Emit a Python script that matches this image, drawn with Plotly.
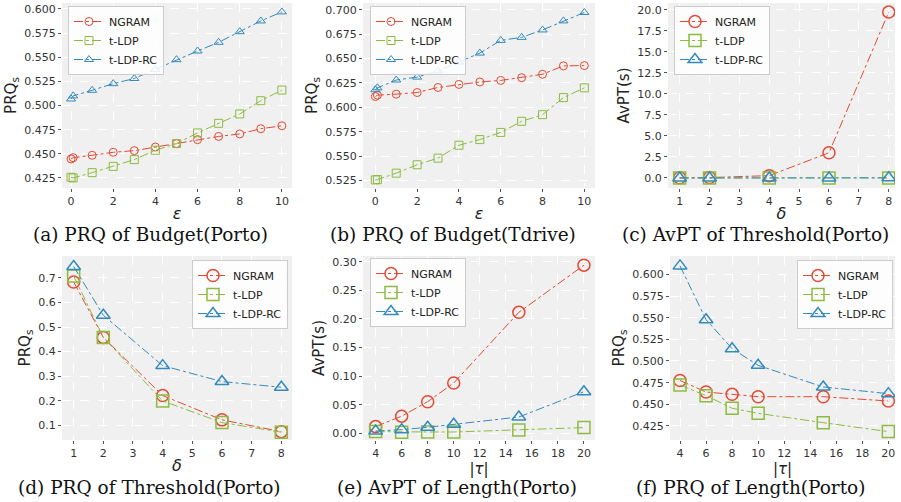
import plotly.graph_objects as go

W, H = 901, 502

series_names = ["NGRAM", "t-LDP", "t-LDP-RC"]
colors = ["#E24A33", "#8EBA42", "#348ABD"]
symbols = ["circle-open", "square-open", "triangle-up-open"]

# (a) PRQ of Budget (Porto)
eps = [0, 0.1, 1, 2, 3, 4, 5, 6, 7, 8, 9, 10]
a_ngram = [0.4447, 0.446, 0.4485, 0.4516, 0.4533, 0.457, 0.4606, 0.4647, 0.468, 0.4706, 0.476, 0.479]
a_tldp = [0.4257, 0.425, 0.4305, 0.437, 0.444, 0.4537, 0.4606, 0.4716, 0.4816, 0.4913, 0.505, 0.516]
a_tldprc = [0.5068, 0.510, 0.5158, 0.5227, 0.528, 0.5375, 0.5475, 0.5565, 0.5655, 0.5765, 0.5876, 0.597]

# (b) PRQ of Budget (Tdrive)
b_ngram = [0.6111, 0.6125, 0.6135, 0.6152, 0.6204, 0.6235, 0.626, 0.6276, 0.6304, 0.6339, 0.6425, 0.6428]
b_tldp = [0.5257, 0.526, 0.5326, 0.5412, 0.548, 0.5612, 0.567, 0.5743, 0.5857, 0.5925, 0.610, 0.620]
b_tldprc = [0.618, 0.620, 0.628, 0.631, 0.6373, 0.6463, 0.6556, 0.6686, 0.6717, 0.6793, 0.6886, 0.6972]

# (c) AvPT of Threshold (Porto)
delta = [1, 2, 4, 6, 8]
c_ngram = [0.02, 0.05, 0.28, 3.0, 19.72]
c_tldp = [0.01, 0.01, 0.01, 0.01, 0.01]
c_tldprc = [0.0, 0.0, 0.0, 0.0, 0.02]

# (d) PRQ of Threshold (Porto)
d_ngram = [0.684, 0.458, 0.221, 0.122, 0.074]
d_tldp = [0.708, 0.458, 0.199, 0.111, 0.072]
d_tldprc = [0.747, 0.548, 0.343, 0.278, 0.255]

# (e) AvPT of Length (Porto)
tau = [4, 6, 8, 10, 15, 20]
e_ngram = [0.0117, 0.030, 0.0553, 0.088, 0.2115, 0.294]
e_tldp = [0.003, 0.002, 0.0023, 0.0023, 0.006, 0.010]
e_tldprc = [0.004, 0.0064, 0.0105, 0.0157, 0.0285, 0.0728]

# (f) PRQ of Length (Porto)
f_ngram = [0.4775, 0.4642, 0.4615, 0.4588, 0.4588, 0.4538]
f_tldp = [0.4723, 0.460, 0.4454, 0.4396, 0.4288, 0.4185]
f_tldprc = [0.6098, 0.5477, 0.5142, 0.4950, 0.4700, 0.4623]

captions = ["(a) PRQ of Budget(Porto)", "(b) PRQ of Budget(Tdrive)", "(c) AvPT of Threshold(Porto)",
            "(d) PRQ of Threshold(Porto)", "(e) AvPT of Length(Porto)", "(f) PRQ of Length(Porto)"]

panels = [
    dict(x=eps, ys=[a_ngram, a_tldp, a_tldprc], px=(62, 292), py=(3, 188), xr=(-0.43, 10.48), yr=(0.4146, 0.6062),
         xt=[0, 2, 4, 6, 8, 10], yt=[0.425, 0.45, 0.475, 0.5, 0.525, 0.55, 0.575, 0.6], yf=".3f",
         xtitle="<i>ε</i>", xts=16, ytitle="PRQ<sub>s</sub>", msize=8, mw=1, leg=(68, 6, "left"), cap=(150, 234)),
    dict(x=eps, ys=[b_ngram, b_tldp, b_tldprc], px=(363, 595), py=(3, 188), xr=(-0.59, 10.51), yr=(0.5174, 0.7069),
         xt=[0, 2, 4, 6, 8, 10], yt=[0.525, 0.55, 0.575, 0.6, 0.625, 0.65, 0.675, 0.7], yf=".3f",
         xtitle="<i>ε</i>", xts=16, ytitle="PRQ<sub>s</sub>", msize=8, mw=1, leg=(370, 6, "left"), cap=(453, 234)),
    dict(x=delta, ys=[c_ngram, c_tldp, c_tldprc], px=(668, 895), py=(3, 188), xr=(0.61, 8.21), yr=(-1.19, 20.8),
         xt=[1, 2, 3, 4, 5, 6, 7, 8], yt=[0, 2.5, 5, 7.5, 10, 12.5, 15, 17.5, 20], yf=".1f",
         xtitle="<i>δ</i>", xts=16, ytitle="AvPT(s)", msize=12, mw=1.5, leg=(674, 6, "left"), cap=(755, 234)),
    dict(x=delta, ys=[d_ngram, d_tldp, d_tldprc], px=(62, 292), py=(256, 440), xr=(0.607, 8.36), yr=(0.040, 0.7896),
         xt=[1, 2, 3, 4, 5, 6, 7, 8], yt=[0.1, 0.2, 0.3, 0.4, 0.5, 0.6, 0.7], yf=".1f",
         xtitle="<i>δ</i>", xts=16, ytitle="PRQ<sub>s</sub>", msize=12, mw=1.5, leg=(288, 260, "right"), cap=(149, 487)),
    dict(x=tau, ys=[e_ngram, e_tldp, e_tldprc], px=(363, 595), py=(256, 440), xr=(3.03, 20.85), yr=(-0.0117, 0.31),
         xt=[4, 6, 8, 10, 12, 14, 16, 18, 20], yt=[0, 0.05, 0.1, 0.15, 0.2, 0.25, 0.3], yf=".2f",
         xtitle="|<i>τ</i>|", xts=15, ytitle="AvPT(s)", msize=12, mw=1.5, leg=(370, 258, "left"), cap=(457, 487)),
    dict(x=tau, ys=[f_ngram, f_tldp, f_tldprc], px=(670, 895), py=(256, 440), xr=(3.23, 20.51), yr=(0.4088, 0.6212),
         xt=[4, 6, 8, 10, 12, 14, 16, 18, 20], yt=[0.425, 0.45, 0.475, 0.5, 0.525, 0.55, 0.575, 0.6], yf=".3f",
         xtitle="|<i>τ</i>|", xts=15, ytitle="PRQ<sub>s</sub>", msize=12, mw=1.5, leg=(893, 260, "right"), cap=(750, 487)),
]

fig = go.Figure()
layout = dict(width=W, height=H, margin=dict(l=0, r=0, t=0, b=0), paper_bgcolor="white",
              plot_bgcolor="#F0F0F0", font=dict(family="DejaVu Sans", size=11, color="#333333"),
              annotations=[])

for i, p in enumerate(panels):
    k = "" if i == 0 else str(i + 1)
    lg = "legend" if i == 0 else "legend" + str(i + 1)
    for j in range(3):
        fig.add_trace(go.Scatter(
            x=p["x"], y=p["ys"][j], name=series_names[j], mode="lines+markers",
            line=dict(color=colors[j], width=1, dash="dashdot"),
            marker=dict(symbol=symbols[j], size=p["msize"], color=colors[j], line=dict(width=p["mw"], color=colors[j])),
            xaxis="x" + k, yaxis="y" + k, legend=lg, showlegend=True))
    x0, x1 = p["px"]
    y0, y1 = p["py"]
    layout["xaxis" + k] = dict(domain=[x0 / W, x1 / W], anchor="y" + k, range=list(p["xr"]),
                               tickvals=p["xt"], showgrid=True, gridcolor="white", griddash="dash",
                               gridwidth=1, zeroline=False, showline=False, ticks="outside", ticklen=3,
                               tickcolor="#555555", tickfont=dict(size=11, color="#333333"),
                               title=dict(text=p["xtitle"], font=dict(size=p["xts"], color="#222222"), standoff=0))
    layout["yaxis" + k] = dict(domain=[1 - y1 / H, 1 - y0 / H], anchor="x" + k, range=list(p["yr"]),
                               tickvals=p["yt"], tickformat=p["yf"], showgrid=True, gridcolor="white",
                               griddash="dash", gridwidth=1, zeroline=False, showline=False, ticks="outside",
                               ticklen=3, tickcolor="#555555", tickfont=dict(size=11, color="#333333"),
                               title=dict(text=p["ytitle"], font=dict(size=15, color="#222222"), standoff=4))
    lx, ly, la = p["leg"]
    layout[lg] = dict(x=lx / W, y=1 - ly / H, xanchor=la, yanchor="top",
                      bgcolor="rgba(255,255,255,0.85)", bordercolor="#CCCCCC", borderwidth=1,
                      font=dict(size=11, color="#222222"), tracegroupgap=0, itemwidth=30)
    layout["annotations"].append(dict(text=captions[i], x=p["cap"][0] / W, y=1 - p["cap"][1] / H,
                                      xref="paper", yref="paper", showarrow=False, xanchor="center",
                                      yanchor="middle", font=dict(family="DejaVu Serif", size=18.5, color="#111111")))

fig.update_layout(**layout)
fig.write_html("out.html", config={"displayModeBar": False},
               post_script="document.body.style.margin='0px';")
